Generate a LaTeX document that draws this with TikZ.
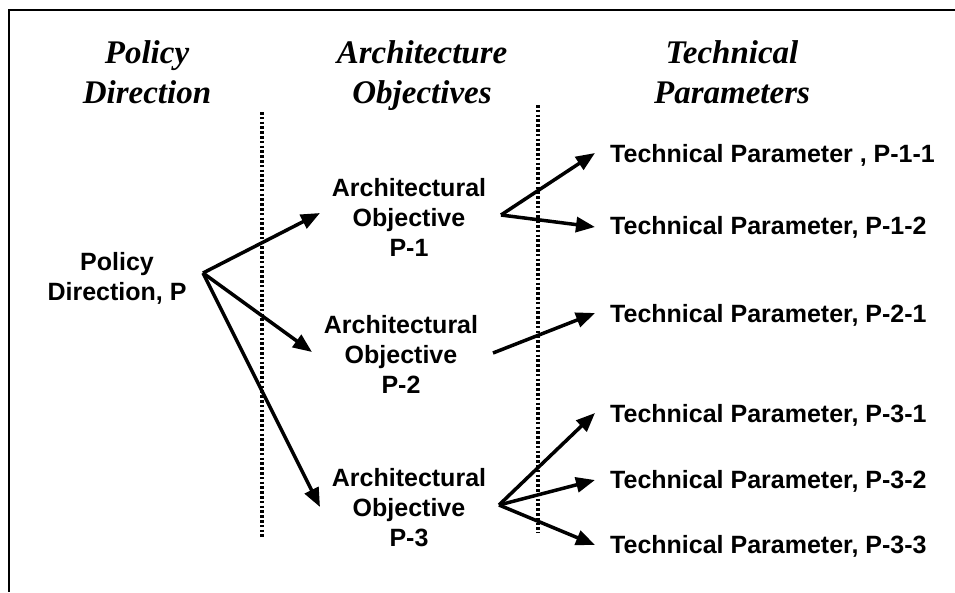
\documentclass[tikz,border=0pt]{standalone}
\usepackage{fontspec}
\setmainfont{Liberation Serif}
\setsansfont{Liberation Sans}
\usetikzlibrary{arrows.meta}
\begin{document}
\begin{tikzpicture}[x=1pt,y=-1pt,
  header/.style={anchor=north,inner sep=0pt,align=center,
    font=\fontsize{33}{40}\selectfont\rmfamily\bfseries\itshape},
  item/.style={anchor=north,inner sep=0pt,align=center,
    font=\fontsize{25}{30}\selectfont\sffamily\bfseries},
  param/.style={anchor=base west,inner sep=0pt,
    font=\fontsize{25}{30}\selectfont\sffamily\bfseries},
  link/.style={line width=3.5pt,-{Triangle[length=19pt,width=15pt]}},
  divider/.style={line width=3.2pt,dash pattern=on 2.6pt off 2.2pt},
  frame/.style={line width=2.6pt}]
\useasboundingbox (0,0) rectangle (955,592);

% frame
\coordinate (fTR) at (955,10);
\coordinate (fTL) at (9,10);
\coordinate (fBL) at (9,592);
\draw[frame] (fTR) -- (fTL) -- (fBL);

% column headings
\node[header] (h1) at (147,40.5) {Policy\\Direction};
\node[header] (h2) at (422,40.5) {Architecture\\Objectives};
\node[header] (h3) at (732,40.5) {Technical\\Parameters};

% column dividers
\coordinate (d1a) at (262,112);
\coordinate (d1b) at (262,537);
\coordinate (d2a) at (538,105);
\coordinate (d2b) at (538,533);
\draw[divider] (d1a) -- (d1b);
\draw[divider] (d2a) -- (d2b);

% nodes
\node[item] (pd) at (117,252) {Policy\\Direction, P};
\node[item] (ao1) at (409,178) {Architectural\\Objective\\P-1};
\node[item] (ao2) at (401,315) {Architectural\\Objective\\P-2};
\node[item] (ao3) at (409,468) {Architectural\\Objective\\P-3};

\node[param] (tp11) at (610,162) {Technical Parameter , P-1-1};
\node[param] (tp12) at (610,234) {Technical Parameter, P-1-2};
\node[param] (tp21) at (610,322) {Technical Parameter, P-2-1};
\node[param] (tp31) at (610,422) {Technical Parameter, P-3-1};
\node[param] (tp32) at (610,488) {Technical Parameter, P-3-2};
\node[param] (tp33) at (610,553) {Technical Parameter, P-3-3};

% connector ends
\coordinate (pdOut) at (203,273);
\coordinate (ao1In) at (320,213);
\coordinate (ao2In) at (312,352);
\coordinate (ao3In) at (320,507);
\coordinate (ao1Out) at (501,215);
\coordinate (ao2Out) at (493,353);
\coordinate (ao3Out) at (499,505);
\coordinate (tp11In) at (595,153);
\coordinate (tp12In) at (595,227);
\coordinate (tp21In) at (595,313);
\coordinate (tp31In) at (595,413);
\coordinate (tp32In) at (595,480);
\coordinate (tp33In) at (595,545);

% connectors
\draw[link] (pdOut) -- (ao1In);
\draw[link] (pdOut) -- (ao2In);
\draw[link] (pdOut) -- (ao3In);
\draw[link] (ao1Out) -- (tp11In);
\draw[link] (ao1Out) -- (tp12In);
\draw[link] (ao2Out) -- (tp21In);
\draw[link] (ao3Out) -- (tp31In);
\draw[link] (ao3Out) -- (tp32In);
\draw[link] (ao3Out) -- (tp33In);
\end{tikzpicture}
\end{document}
